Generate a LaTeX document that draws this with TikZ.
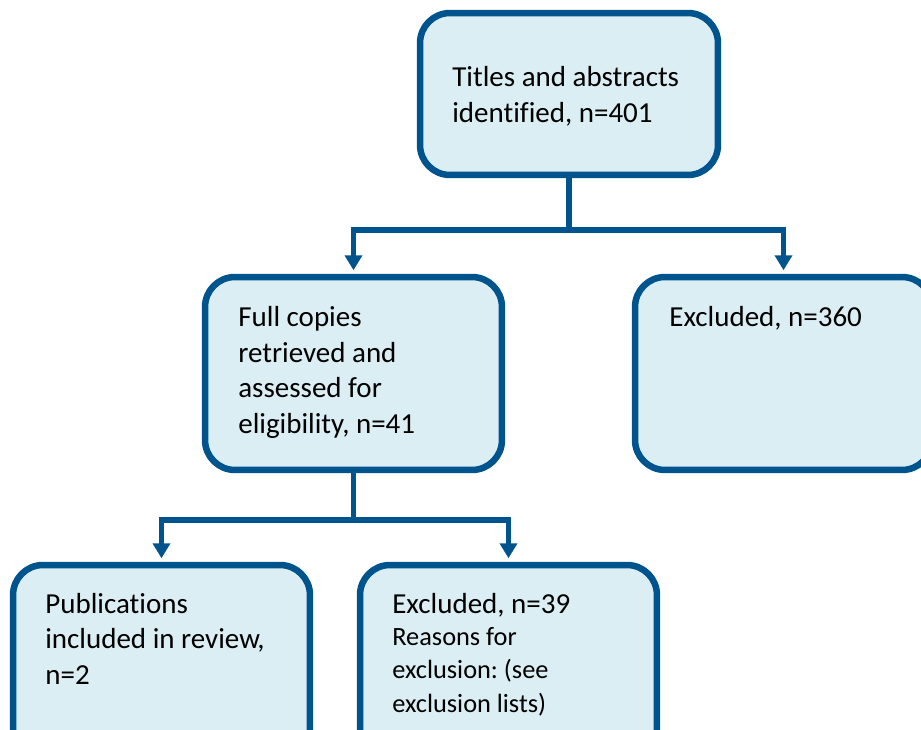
\documentclass[tikz,border=0pt]{standalone}
\usepackage{fontspec}
\setmainfont{Carlito}[Ligatures=NoCommon]
\usetikzlibrary{arrows.meta}
\definecolor{boxline}{RGB}{0,84,141}
\definecolor{boxfill}{RGB}{218,238,243}
\frenchspacing
\begin{document}
\begin{tikzpicture}[x=0.02cm, y=-0.02cm,
    stage/.style={draw=boxline, fill=boxfill, line width=3.7pt, rounded corners=0.6cm,
        minimum width=5.94cm, minimum height=3.86cm, inner sep=0pt},
    stagetext/.style={anchor=base west, align=left, inner sep=0pt,
        font=\fontsize{16.5pt}{20.2pt}\selectfont},
    flow/.style={draw=boxline, line width=3.1pt},
    flowarrow/.style={flow, -{Triangle[width=0.34cm, length=0.3cm]}, shorten >=2pt}]
    \useasboundingbox (0,0) rectangle (921,730);
    \clip (0,0) rectangle (921,730);
    % boxes
    \node[stage, minimum width=5.96cm, minimum height=3.24cm] (titles) at (569,94) {};
    \node[stage] (full) at (353.5,373.5) {};
    \node[stage] (excl1) at (783.5,373.5) {};
    \node[stage] (incl) at (161.5,661.5) {};
    \node[stage] (excl2) at (508.5,661.5) {};
    % texts (base = last line)
    \node[stagetext] (titlestext) at (452,122) {Titles and abstracts\\identified, n=401};
    \node[stagetext] (fulltext) at (238,433) {Full copies\\retrieved and\\assessed for\\eligibility, n=41};
    \node[stagetext] (excl1text) at (669,326) {Excluded, n=360};
    \node[stagetext] (incltext) at (45,684) {Publications\\included in review,\\n=2};
    \node[stagetext] (excl2text) at (392,613) {Excluded, n=39};
    \node[stagetext, font=\fontsize{15pt}{18.8pt}\selectfont] (reasons) at (392,712) {Reasons for\\exclusion: (see\\exclusion lists)};
    % connectors
    \draw[flow] (titles.south) -- (titles.south |- 0,230) coordinate (split1);
    \draw[flowarrow] (split1) -| (full.north);
    \draw[flowarrow] (split1) -| (excl1.north);
    \draw[flow] (full.south) -- (full.south |- 0,520) coordinate (split2);
    \draw[flowarrow] (split2) -| (incl.north);
    \draw[flowarrow] (split2) -| (excl2.north);
\end{tikzpicture}
\end{document}
